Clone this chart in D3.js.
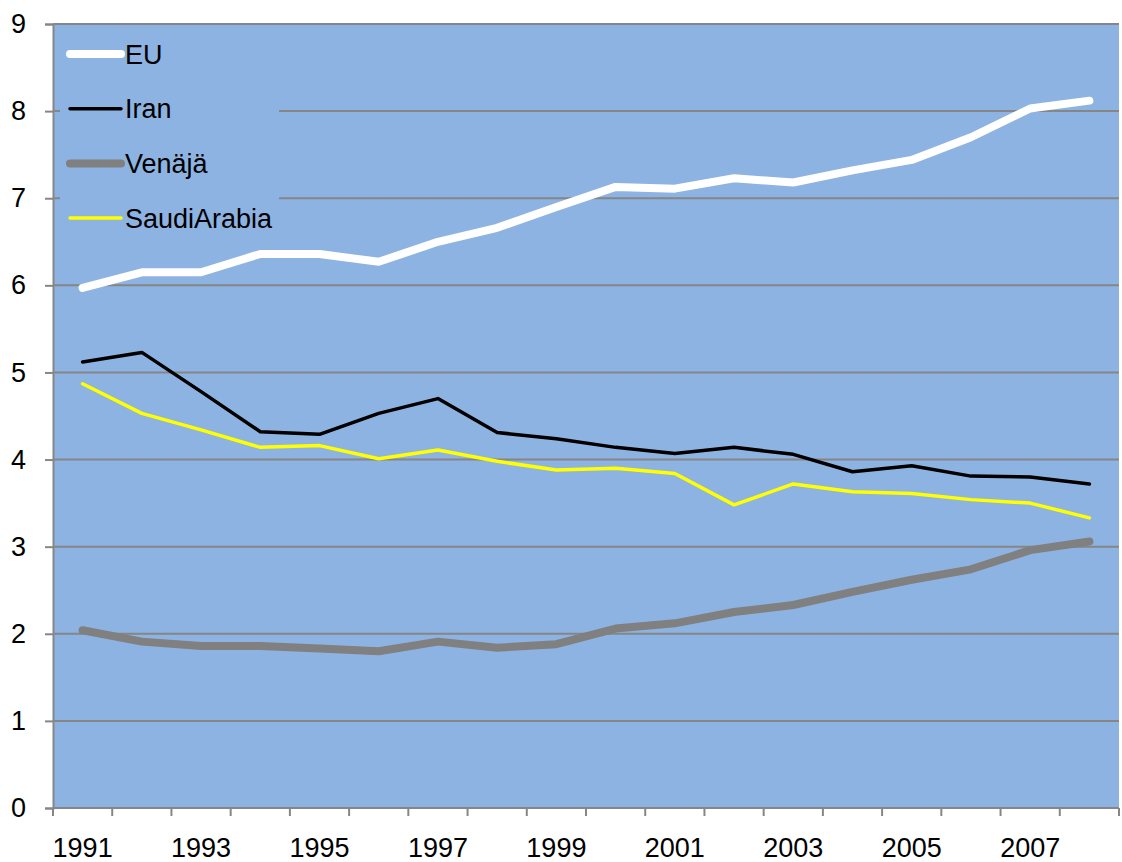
<!DOCTYPE html>
<html>
<head>
<meta charset="utf-8">
<script src="https://cdn.jsdelivr.net/npm/d3@7"></script>
<style>
  body { margin: 0; background: #fff; }
  svg text { font-family: "Liberation Sans Narrow", "Liberation Sans", Arial, sans-serif; fill: #000; }
</style>
</head>
<body>
<svg id="chart" width="1122" height="862"></svg>
<script>
const years = ["1991","1992","1993","1994","1995","1996","1997","1998","1999","2000","2001","2002","2003","2004","2005","2006","2007","2008"];
const yTicks = [0, 1, 2, 3, 4, 5, 6, 7, 8, 9];

const eu = [5.97, 6.15, 6.15, 6.36, 6.36, 6.27, 6.50, 6.66, 6.90, 7.13, 7.11, 7.23, 7.18, 7.32, 7.44, 7.70, 8.03, 8.12];
const iran = [5.12, 5.23, 4.78, 4.32, 4.29, 4.53, 4.70, 4.31, 4.24, 4.14, 4.07, 4.14, 4.06, 3.86, 3.93, 3.81, 3.80, 3.72];
const venaja = [2.04, 1.91, 1.86, 1.86, 1.83, 1.80, 1.91, 1.84, 1.88, 2.06, 2.12, 2.25, 2.33, 2.48, 2.62, 2.74, 2.96, 3.06];
const saudi = [4.87, 4.53, 4.34, 4.14, 4.16, 4.01, 4.11, 3.98, 3.88, 3.90, 3.84, 3.48, 3.72, 3.63, 3.61, 3.54, 3.50, 3.33];

const series = [
  { name: "EU", values: eu, color: "#ffffff", width: 8 },
  { name: "Iran", values: iran, color: "#000000", width: 3.5 },
  { name: "Venäjä", values: venaja, color: "#808080", width: 8 },
  { name: "SaudiArabia", values: saudi, color: "#ffff00", width: 3.5 },
];

const W = 1122, H = 862;
const margin = { top: 24, right: 3, bottom: 54, left: 53 };
const innerW = W - margin.left - margin.right;
const innerH = H - margin.top - margin.bottom;
const axisColor = "#868686";

const svg = d3.select("#chart");
const g = svg.append("g").attr("transform", `translate(${margin.left},${margin.top})`);

const x = d3.scaleBand().domain(years).range([0, innerW]);
const y = d3.scaleLinear().domain([0, 9]).range([innerH, 0]);

// plot background
g.append("rect")
  .attr("width", innerW)
  .attr("height", innerH)
  .attr("fill", "#8db3e2");

// gridlines
g.append("g")
  .selectAll("line")
  .data(yTicks.filter((d) => d > 0))
  .join("line")
  .attr("x1", 0)
  .attr("x2", innerW)
  .attr("y1", (d) => y(d))
  .attr("y2", (d) => y(d))
  .attr("stroke", axisColor)
  .attr("stroke-width", 2);

// legend box (covers gridlines like the original)
const legend = g.append("g");
legend.append("rect")
  .attr("x", 7)
  .attr("y", 4)
  .attr("width", 219)
  .attr("height", 210)
  .attr("fill", "#8db3e2");

const legendItem = legend
  .selectAll("g")
  .data(series)
  .join("g")
  .attr("transform", (d, i) => `translate(17, ${30 + i * 54.7})`);

legendItem.append("line")
  .attr("x1", 0)
  .attr("x2", 51)
  .attr("stroke", (d) => d.color)
  .attr("stroke-width", (d) => d.width)
  .attr("stroke-linecap", "round");

legendItem.append("text")
  .attr("x", 55)
  .attr("dy", "0.36em")
  .style("font-size", "27px")
  .text((d) => d.name);

// series lines
const line = d3.line()
  .x((d, i) => x(years[i]) + x.bandwidth() / 2)
  .y((d) => y(d));

g.append("g")
  .selectAll("path")
  .data(series)
  .join("path")
  .attr("d", (d) => line(d.values))
  .attr("fill", "none")
  .attr("stroke", (d) => d.color)
  .attr("stroke-width", (d) => d.width)
  .attr("stroke-linejoin", "round")
  .attr("stroke-linecap", "round");

// y axis
const yAxis = g.append("g")
  .call(d3.axisLeft(y).tickValues(yTicks).tickSize(8).tickPadding(19).tickFormat(d3.format("d")));
yAxis.select(".domain").attr("stroke", axisColor).attr("stroke-width", 2);
yAxis.selectAll(".tick line").attr("stroke", axisColor).attr("stroke-width", 2);
yAxis.selectAll(".tick text").style("font-size", "27px").attr("fill", "#000");

// x axis: boundary ticks
const xAxis = g.append("g").attr("transform", `translate(0,${innerH})`);
xAxis.append("line")
  .attr("x1", 0)
  .attr("x2", innerW)
  .attr("stroke", axisColor)
  .attr("stroke-width", 2);
xAxis.selectAll(".bt")
  .data(years.map((d) => x(d)).concat([innerW]))
  .join("line")
  .attr("class", "bt")
  .attr("x1", (d) => d)
  .attr("x2", (d) => d)
  .attr("y1", 0)
  .attr("y2", 8)
  .attr("stroke", axisColor)
  .attr("stroke-width", 2);

// x axis labels at category centres, every other year
const xLabels = g.append("g")
  .attr("transform", `translate(0,${innerH})`)
  .call(d3.axisBottom(x).tickValues(years.filter((d, i) => i % 2 === 0)).tickSize(0).tickPadding(30));
xLabels.select(".domain").remove();
xLabels.selectAll(".tick text").style("font-size", "27px").attr("fill", "#000");
</script>
</body>
</html>
